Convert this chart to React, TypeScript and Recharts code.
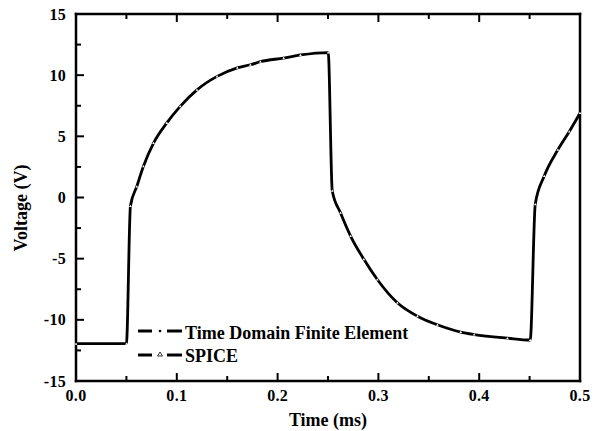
import { LineChart, Line, XAxis, YAxis, Legend } from 'recharts';

// readings
const timeMs = [
  0, 0.05, 0.054, 0.0603, 0.0669, 0.0769, 0.0901, 0.1034, 0.12, 0.14, 0.16, 0.173, 0.183, 0.206,
  0.2227, 0.2502, 0.2542, 0.2624, 0.2724, 0.2856, 0.2989, 0.3188, 0.3387, 0.3585, 0.3817, 0.395,
  0.428, 0.4506, 0.4556, 0.4645, 0.478, 0.4894, 0.5,
];
const feVoltage = [
  -11.95, -11.95, -0.7, 0.9, 2.55, 4.45, 6.1, 7.45, 8.8, 9.9, 10.6, 10.85, 11.1, 11.4,
  11.65, 11.85, 0.55, -1.25, -3.15, -5.05, -6.7, -8.6, -9.7, -10.4, -11.0, -11.2,
  -11.5, -11.65, -0.55, 1.75, 3.9, 5.4, 6.9,
];
const spiceVoltage = [
  -11.95, -11.95, -0.7, 0.9, 2.55, 4.45, 6.1, 7.45, 8.8, 9.9, 10.6, 10.85, 11.1, 11.4,
  11.65, 11.85, 0.55, -1.25, -3.15, -5.05, -6.7, -8.6, -9.7, -10.4, -11.0, -11.2,
  -11.5, -11.65, -0.55, 1.75, 3.9, 5.4, 6.9,
];

const xTicks = [0, 0.05, 0.1, 0.15, 0.2, 0.25, 0.3, 0.35, 0.4, 0.45, 0.5];
const yTicks = [-15, -12.5, -10, -7.5, -5, -2.5, 0, 2.5, 5, 7.5, 10, 12.5, 15];

const data = timeMs.map((t, i) => ({ t, fe: feVoltage[i], spice: spiceVoltage[i] }));

const FONT = '"Liberation Serif", "Times New Roman", serif';
const tickStyle = { fontFamily: FONT, fontWeight: 700, fill: '#000', letterSpacing: 0.3 };
const titleStyle = { fontFamily: FONT, fontWeight: 700, fill: '#000' };

const isMajor = (v: number, step: number) => Math.abs(v / step - Math.round(v / step)) < 1e-6;

const BottomTick = ({ x, y, payload }: any) => {
  const major = isMajor(payload.value, 0.1);
  return (
    <g>
      <line x1={x} x2={x} y1={y} y2={y - (major ? 8 : 5)} stroke="#000" strokeWidth={2} />
      {major && (
        <text x={x} y={y + 20} textAnchor="middle" fontSize={16} style={tickStyle}>
          {payload.value.toFixed(1)}
        </text>
      )}
    </g>
  );
};

const TopTick = ({ x, y, payload }: any) => {
  const major = isMajor(payload.value, 0.1);
  return <line x1={x} x2={x} y1={y} y2={y + (major ? 8 : 5)} stroke="#000" strokeWidth={2} />;
};

const LeftTick = ({ x, y, payload }: any) => {
  const major = isMajor(payload.value, 5);
  return (
    <g>
      <line x1={x} x2={x + (major ? 8 : 5)} y1={y} y2={y} stroke="#000" strokeWidth={2} />
      {major && (
        <text x={x - 10} y={y + 5.5} textAnchor="end" fontSize={16} style={tickStyle}>
          {String(payload.value)}
        </text>
      )}
    </g>
  );
};

const RightTick = ({ x, y, payload }: any) => {
  const major = isMajor(payload.value, 5);
  return <line x1={x} x2={x - (major ? 8 : 5)} y1={y} y2={y} stroke="#000" strokeWidth={2} />;
};

const TriangleDot = ({ cx, cy }: any) => {
  if (cx == null || cy == null) return null;
  return (
    <path
      d={`M${cx},${cy - 1.3} L${cx + 1.3},${cy + 1} L${cx - 1.3},${cy + 1} Z`}
      fill="#fff"
      stroke="none"
    />
  );
};

const LegendBox = () => (
  <svg width={300} height={52} style={{ display: 'block' }}>
    <line x1={18} x2={32} y1={16} y2={16} stroke="#000" strokeWidth={3} />
    <circle cx={40} cy={16} r={1.3} fill="#000" />
    <line x1={47} x2={62} y1={16} y2={16} stroke="#000" strokeWidth={3} />
    <text x={65} y={24} fontSize={18} style={titleStyle}>Time Domain Finite Element</text>
    <line x1={18} x2={32} y1={40} y2={40} stroke="#000" strokeWidth={3} />
    <path d="M40,37 L42.5,41 L37.5,41 Z" fill="#fff" stroke="#000" strokeWidth={0.8} />
    <line x1={47} x2={62} y1={40} y2={40} stroke="#000" strokeWidth={3} />
    <text x={65} y={47} fontSize={18} style={titleStyle}>SPICE</text>
  </svg>
);

const axisLine = { stroke: '#000', strokeWidth: 2.5, strokeLinecap: 'square' as const };

export default function App() {
  return (
    <div style={{ position: 'absolute', left: 0, top: 0, width: 597, height: 431, background: '#fff' }}>
      <LineChart width={597} height={431} data={data} margin={{ top: 0, right: 0, bottom: 0, left: 0 }}>
        <XAxis
          xAxisId="bottom"
          dataKey="t"
          type="number"
          domain={[0, 0.5]}
          ticks={xTicks}
          interval={0}
          height={50}
          tickSize={0}
          tickMargin={0}
          tick={<BottomTick />}
          axisLine={axisLine}
          label={{
            content: ({ viewBox }: any) => (
              <text x={viewBox.x + viewBox.width / 2} y={426} textAnchor="middle" fontSize={18} style={titleStyle}>
                Time (ms)
              </text>
            ),
          }}
        />
        <XAxis
          xAxisId="top"
          dataKey="t"
          type="number"
          orientation="top"
          domain={[0, 0.5]}
          ticks={xTicks}
          interval={0}
          height={14}
          tickSize={0}
          tickMargin={0}
          tick={<TopTick />}
          axisLine={axisLine}
        />
        <YAxis
          yAxisId="left"
          type="number"
          domain={[-15, 15]}
          ticks={yTicks}
          interval={0}
          width={76}
          tickSize={0}
          tickMargin={0}
          tick={<LeftTick />}
          axisLine={axisLine}
          label={{
            content: () => {
              const cx = 27;
              const cy = 208;
              return (
                <text x={cx} y={cy} transform={`rotate(-90, ${cx}, ${cy})`} textAnchor="middle" fontSize={18} style={titleStyle}>
                  Voltage (V)
                </text>
              );
            },
          }}
        />
        <YAxis
          yAxisId="right"
          orientation="right"
          type="number"
          domain={[-15, 15]}
          ticks={yTicks}
          interval={0}
          width={17}
          tickSize={0}
          tickMargin={0}
          tick={<RightTick />}
          axisLine={axisLine}
        />
        <Legend
          layout="vertical"
          align="center"
          verticalAlign="middle"
          content={<LegendBox />}
          wrapperStyle={{ left: 120, top: 315, width: 'auto', height: 'auto' }}
        />
        <Line
          xAxisId="bottom"
          yAxisId="left"
          type="monotone"
          dataKey="fe"
          name="Time Domain Finite Element"
          stroke="#000"
          strokeWidth={2.8}
          dot={false}
          isAnimationActive={false}
        />
        <Line
          xAxisId="bottom"
          yAxisId="left"
          type="monotone"
          dataKey="spice"
          name="SPICE"
          stroke="#000"
          strokeWidth={1}
          dot={<TriangleDot />}
          isAnimationActive={false}
        />
      </LineChart>
    </div>
  );
}
